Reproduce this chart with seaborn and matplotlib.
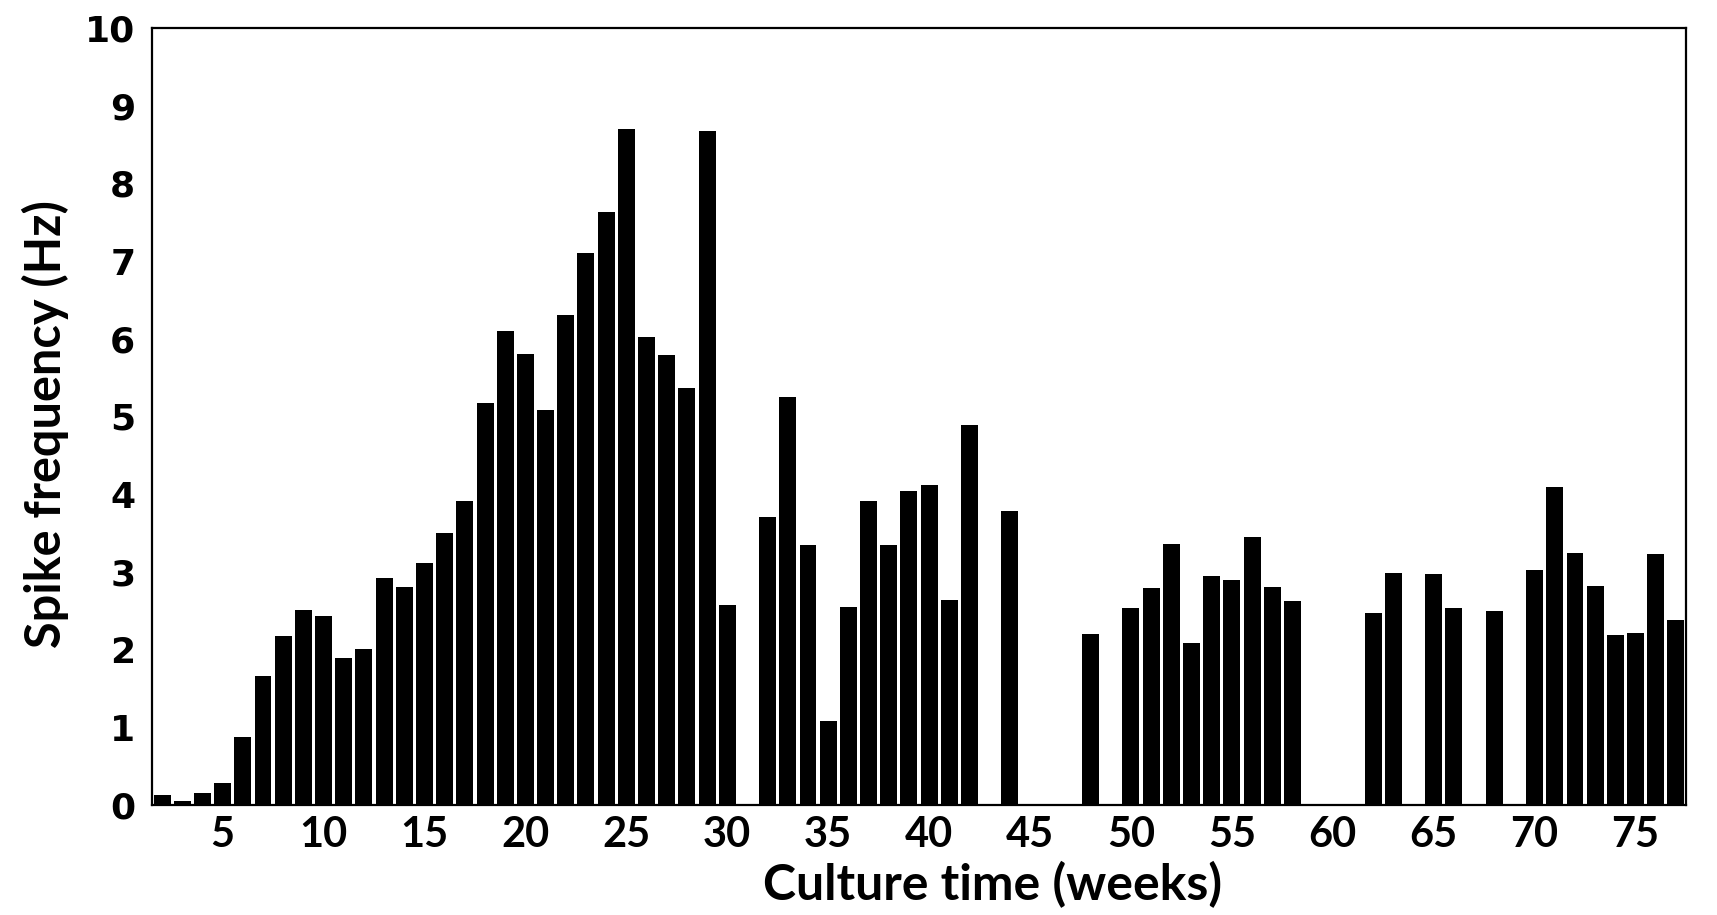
import numpy as np
import pandas as pd
import seaborn as sns
import matplotlib
matplotlib.use("Agg")
import matplotlib.pyplot as plt

# Data (culture week -> mean spike frequency, Hz); 0 = no recording
weeks = list(range(2, 78))
spike_hz = [0.13, 0.05, 0.15, 0.28, 0.87, 1.66, 2.17, 2.51, 2.43, 1.89, 2.01, 2.92, 2.80, 3.11,
            3.50, 3.91, 5.17, 6.10, 5.81, 5.09, 6.30, 7.10, 7.63, 8.70, 6.02, 5.79, 5.37, 8.67,
            2.58, 0.0, 3.71, 5.25, 3.35, 1.08, 2.55, 3.91, 3.35, 4.04, 4.12, 2.64, 4.89, 0.0, 3.79,
            0.0, 0.0, 0.0, 2.20, 0.0, 2.53, 2.79, 3.36, 2.08, 2.95, 2.89, 3.45, 2.81, 2.62,
            0.0, 0.0, 0.0, 2.47, 2.98, 0.0, 2.97, 2.53, 0.0, 2.50, 0.0, 3.02, 4.09, 3.24, 2.82,
            2.19, 2.22, 3.23, 2.38]
xtick_weeks = list(range(5, 80, 5))
ytick_values = list(range(0, 11))
x_label = "Culture time (weeks)"
y_label = "Spike frequency (Hz)"

df = pd.DataFrame({"week": [str(w) for w in weeks], "hz": spike_hz})
order = [str(w) for w in weeks]

sns.set_theme(style="white")
plt.rcParams["font.family"] = ["Lato", "DejaVu Sans"]

fig = plt.figure(figsize=(17.17, 9.15), dpi=100)
ax = fig.add_axes([152 / 1717, 1 - 805 / 915, (1686 - 152) / 1717, (805 - 28) / 915])

sns.barplot(data=df, x="week", y="hz", order=order, color="black", saturation=1,
            width=0.84, linewidth=0, errorbar=None, ax=ax)

ax.set_xlim(-0.5, len(weeks) - 0.5)
ax.set_ylim(0, 10)
ax.set_xticks([weeks.index(w) for w in xtick_weeks if w in weeks])
ax.set_xticklabels([str(w) for w in xtick_weeks if w in weeks],
                   fontsize=30, fontweight="bold", family=["Lato", "DejaVu Sans"])
ax.set_yticks(ytick_values)
ax.set_yticklabels([str(v) for v in ytick_values], fontsize=26, fontweight="bold",
                   family=["DejaVu Sans"])
ax.tick_params(axis="x", length=0, pad=8, colors="black")
ax.tick_params(axis="y", length=0, pad=12, colors="black")

for s in ax.spines.values():
    s.set_visible(True)
    s.set_color("black")
    s.set_linewidth(1.6)

ax.set_xlabel(x_label, fontsize=36, fontweight="bold", color="black")
ax.set_ylabel(y_label, fontsize=35, fontweight="bold", color="black")
ax.xaxis.set_label_coords(0.548, -0.072)
ax.yaxis.set_label_coords(-0.054, 0.49)

fig.savefig("out.png", dpi=100, facecolor="white")
